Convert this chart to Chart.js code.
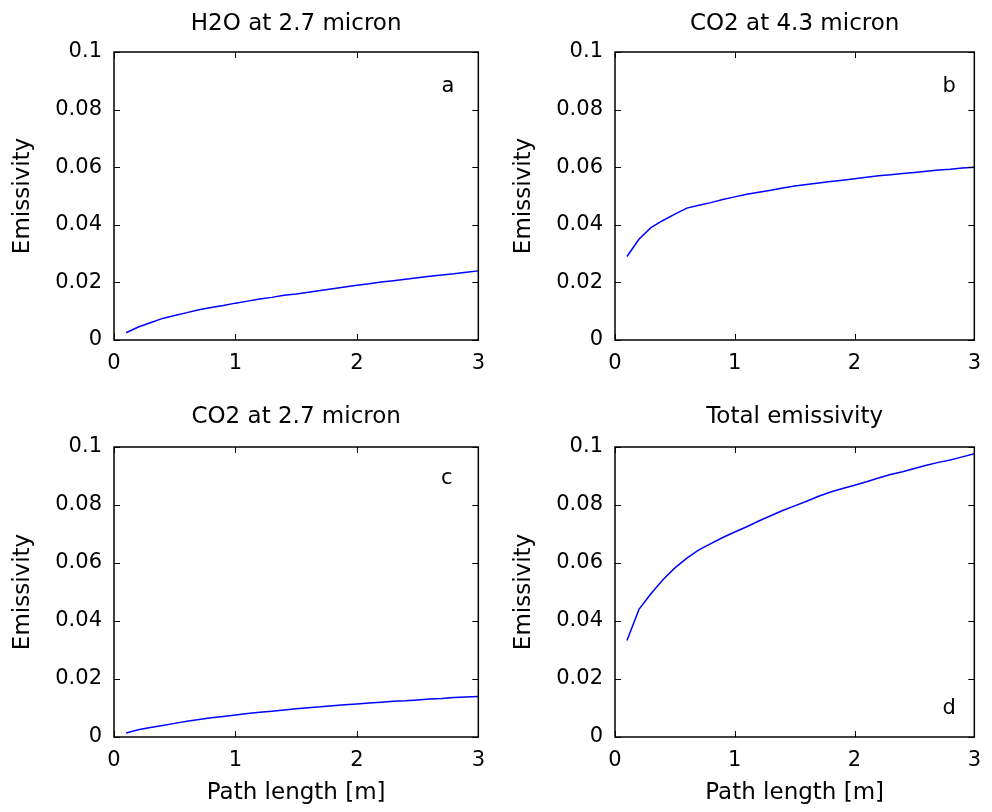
<!DOCTYPE html>
<html>
<head>
<meta charset="utf-8">
<title>Emissivity vs path length</title>
<script src="https://cdn.jsdelivr.net/npm/chart.js@4.4.1/dist/chart.umd.min.js"></script>
<style>
  html, body { margin: 0; padding: 0; background: #fff; }
  #wrap { position: relative; width: 992px; height: 812px; overflow: hidden; }
  .panel { position: absolute; }
  .panel canvas { display: block; }
</style>
</head>
<body>
<div id="wrap">
  <div class="panel" style="left:0;top:0"><canvas id="chartA" width="496" height="400"></canvas></div>
  <div class="panel" style="left:496px;top:0"><canvas id="chartB" width="496" height="400"></canvas></div>
  <div class="panel" style="left:0;top:400px"><canvas id="chartC" width="496" height="412"></canvas></div>
  <div class="panel" style="left:496px;top:400px"><canvas id="chartD" width="496" height="412"></canvas></div>
</div>
<script>
// path length [m]
const pathLength = [0.1, 0.2, 0.3, 0.4, 0.5, 0.6, 0.7, 0.8, 0.9, 1.0,
  1.1, 1.2, 1.3, 1.4, 1.5, 1.6, 1.7, 1.8, 1.9, 2.0,
  2.1, 2.2, 2.3, 2.4, 2.5, 2.6, 2.7, 2.8, 2.9, 3.0];

// emissivity
const h2o27 = [0.0025, 0.0045, 0.006, 0.0075, 0.0085, 0.0095, 0.0105, 0.0113, 0.012, 0.0128,
  0.0135, 0.0142, 0.0148, 0.0155, 0.016, 0.0166, 0.0172, 0.0178, 0.0184, 0.019,
  0.0195, 0.0201, 0.0206, 0.0211, 0.0216, 0.0221, 0.0226, 0.023, 0.0235, 0.024];
const co243 = [0.029, 0.035, 0.039, 0.0415, 0.0437, 0.0458, 0.0468, 0.0477, 0.0488, 0.0497,
  0.0506, 0.0513, 0.052, 0.0528, 0.0535, 0.054, 0.0545, 0.055, 0.0555, 0.056,
  0.0565, 0.057, 0.0574, 0.0578, 0.0582, 0.0586, 0.059, 0.0593, 0.0597, 0.060];
const co227 = [0.0014, 0.0025, 0.0033, 0.004, 0.0047, 0.0054, 0.006, 0.0066, 0.0071, 0.0076,
  0.0081, 0.0085, 0.0089, 0.0093, 0.0097, 0.0101, 0.0104, 0.0108, 0.0111, 0.0114,
  0.0117, 0.012, 0.0123, 0.0125, 0.0128, 0.0131, 0.0133, 0.0136, 0.0138, 0.014];
const totalEm = [0.0333, 0.044, 0.0494, 0.0542, 0.0583, 0.0617, 0.0645, 0.0667, 0.0688, 0.0707,
  0.0725, 0.0745, 0.0763, 0.0781, 0.0797, 0.0813, 0.083, 0.0845, 0.0857, 0.0868,
  0.088, 0.0893, 0.0905, 0.0915, 0.0926, 0.0937, 0.0947, 0.0955, 0.0966, 0.0977];

const panelTitles = ["H2O at 2.7 micron", "CO2 at 4.3 micron", "CO2 at 2.7 micron", "Total emissivity"];
const panelLetters = ["a", "b", "c", "d"];
const letterX = [2.75, 2.79, 2.74, 2.79];
const letterY = [0.088, 0.088, 0.089, 0.0098];

const xTicks = [0, 1, 2, 3];
const yTicks = [0, 0.02, 0.04, 0.06, 0.08, 0.1];

const FONT = "'DejaVu Sans', sans-serif";

// matlab style box with inward ticks + panel letter
const boxPlugin = {
  id: "matlabBox",
  afterDraw(chart, args, opts) {
    const { ctx, chartArea: a, scales } = chart;
    const x = scales.x, y = scales.y;
    const tl = 6;
    ctx.save();
    ctx.strokeStyle = "#000";
    ctx.lineWidth = 1.5;
    ctx.strokeRect(a.left, a.top, a.right - a.left, a.bottom - a.top);
    ctx.lineWidth = 1;
    ctx.beginPath();
    x.ticks.forEach((t) => {
      const px = Math.round(x.getPixelForValue(t.value)) + 0.5;
      ctx.moveTo(px, a.bottom); ctx.lineTo(px, a.bottom - tl);
      ctx.moveTo(px, a.top); ctx.lineTo(px, a.top + tl);
    });
    y.ticks.forEach((t) => {
      const py = Math.round(y.getPixelForValue(t.value)) + 0.5;
      ctx.moveTo(a.left, py); ctx.lineTo(a.left + tl, py);
      ctx.moveTo(a.right, py); ctx.lineTo(a.right - tl, py);
    });
    ctx.stroke();

    ctx.fillStyle = "#000";
    ctx.font = "21px " + FONT;
    ctx.textAlign = "center";
    ctx.textBaseline = "middle";
    ctx.fillText(opts.letter, x.getPixelForValue(opts.lx), y.getPixelForValue(opts.ly));
    ctx.restore();
  },
};

const panels = [
  { canvas: "chartA", series: h2o27, h: 400, area: { left: 114, right: 480, top: 52, bottom: 340 },
    titlePad: { top: 10, bottom: 14.4 }, yTitlePad: 9.4, showX: false },
  { canvas: "chartB", series: co243, h: 400, area: { left: 119, right: 485, top: 52, bottom: 340 },
    titlePad: { top: 10, bottom: 14.4 }, yTitlePad: 14, showX: false },
  { canvas: "chartC", series: co227, h: 412, area: { left: 114, right: 480, top: 47, bottom: 337 },
    titlePad: { top: 3.4, bottom: 16 }, yTitlePad: 9.4, showX: true },
  { canvas: "chartD", series: totalEm, h: 412, area: { left: 119, right: 485, top: 47, bottom: 337 },
    titlePad: { top: 3.4, bottom: 16 }, yTitlePad: 14, showX: true },
];

panels.forEach((p, i) => {
  const ctx = document.getElementById(p.canvas).getContext("2d");
  new Chart(ctx, {
    type: "line",
    data: {
      datasets: [
        {
          data: pathLength.map((v, k) => ({ x: v, y: p.series[k] })),
          borderColor: "#0000ff",
          borderWidth: 1.5,
          pointRadius: 0,
          tension: 0,
          fill: false,
        },
      ],
    },
    options: {
      responsive: false,
      animation: false,
      events: [],
      layout: {
        padding: { left: 0, right: 496 - p.area.right, top: 0, bottom: 0 },
      },
      plugins: {
        legend: { display: false },
        tooltip: { enabled: false },
        title: {
          display: true,
          text: panelTitles[i],
          fullSize: false,
          color: "#000",
          font: { family: FONT, size: 23, weight: "normal" },
          padding: p.titlePad,
        },
        matlabBox: { letter: panelLetters[i], lx: letterX[i], ly: letterY[i] },
      },
      scales: {
        x: {
          type: "linear",
          min: 0,
          max: 3,
          afterBuildTicks: (s) => { s.ticks = xTicks.map((v) => ({ value: v })); },
          afterFit: (s) => { s.height = p.h - p.area.bottom; },
          grid: { display: false, drawTicks: false },
          border: { display: false },
          ticks: {
            color: "#000",
            padding: 11,
            font: { family: FONT, size: 21 },
            maxRotation: 0,
          },
          title: {
            display: p.showX,
            text: "Path length [m]",
            color: "#000",
            font: { family: FONT, size: 23 },
            padding: { top: 0, bottom: 5 },
          },
        },
        y: {
          type: "linear",
          min: 0,
          max: 0.1,
          afterBuildTicks: (s) => { s.ticks = yTicks.map((v) => ({ value: v })); },
          afterFit: (s) => { s.width = p.area.left; },
          grid: { display: false, drawTicks: false },
          border: { display: false },
          ticks: {
            color: "#000",
            padding: 12,
            font: { family: FONT, size: 21 },
            callback: (v) => String(+Number(v).toFixed(2)),
          },
          title: {
            display: true,
            text: "Emissivity",
            color: "#000",
            font: { family: FONT, size: 23 },
            padding: { top: p.yTitlePad, bottom: 0 },
          },
        },
      },
    },
    plugins: [boxPlugin],
  });
});
</script>
</body>
</html>
